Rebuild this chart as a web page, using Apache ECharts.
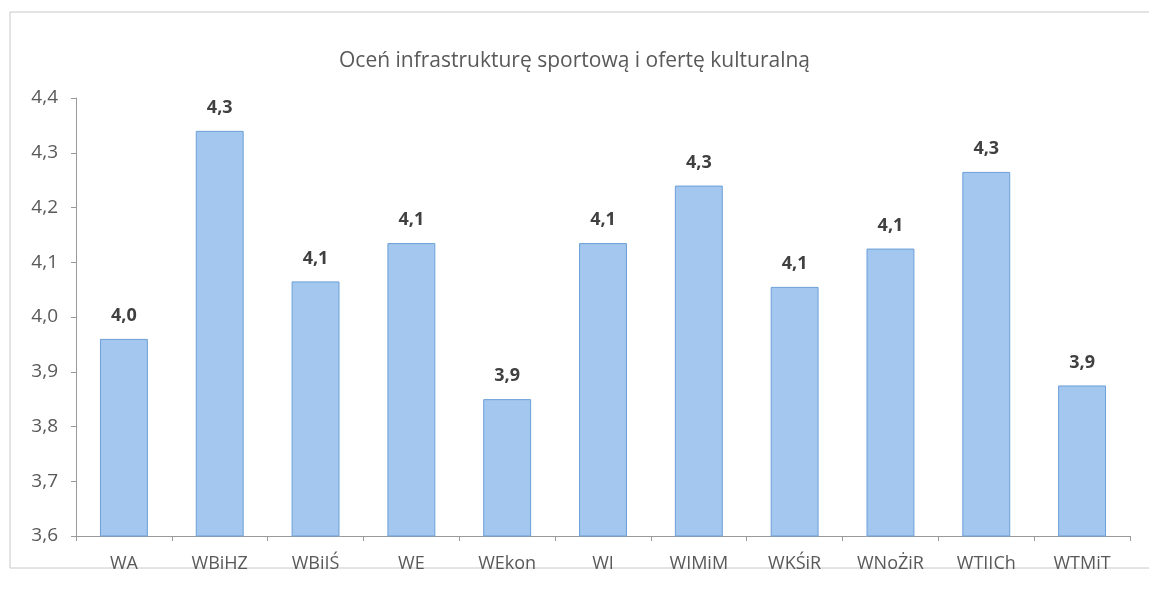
<!DOCTYPE html>
<html>
<head>
<meta charset="utf-8">
<script src="https://cdn.jsdelivr.net/npm/echarts@6/dist/echarts.min.js"></script>
<style>
  html, body { margin: 0; padding: 0; background: #fff; }
  #chart { width: 1149px; height: 598px; }
</style>
</head>
<body>
<div id="chart"></div>
<script>
// dane
var wydzialy = ['WA', 'WBiHZ', 'WBiIŚ', 'WE', 'WEkon', 'WI', 'WIMiM', 'WKŚiR', 'WNoŻiR', 'WTIICh', 'WTMiT'];
var oceny = [3.96, 4.34, 4.065, 4.135, 3.85, 4.135, 4.24, 4.055, 4.125, 4.265, 3.875];
var etykiety = ['4,0', '4,3', '4,1', '4,1', '3,9', '4,1', '4,3', '4,1', '4,1', '4,3', '3,9'];
var tytul = 'Oceń infrastrukturę sportową i ofertę kulturalną';

var myChart = echarts.init(document.getElementById('chart'));

myChart.setOption({
    backgroundColor: '#fff',
    textStyle: { fontFamily: 'Open Sans' },
    title: {
        text: tytul,
        left: 'center',
        top: 46,
        textStyle: { fontFamily: 'Open Sans', fontSize: 21, fontWeight: 'normal', color: '#595959' }
    },
    graphic: [{
        type: 'rect',
        shape: { x: 10, y: 12, width: 1160, height: 556 },
        style: { fill: 'none', stroke: '#c8c8c8', lineWidth: 1 },
        silent: true
    }],
    grid: { left: 76, right: 19, top: 98, bottom: 62 },
    xAxis: {
        type: 'category',
        data: wydzialy,
        axisLine: { lineStyle: { color: '#9a9a9a' } },
        axisTick: { show: true, length: 5, lineStyle: { color: '#9a9a9a' } },
        axisLabel: { color: '#595959', fontSize: 18, margin: 19 }
    },
    yAxis: {
        type: 'value',
        min: 3.6,
        max: 4.4,
        interval: 0.1,
        splitLine: { show: false },
        axisLine: { show: true, lineStyle: { color: '#9a9a9a' } },
        axisTick: { show: true, length: 5, lineStyle: { color: '#9a9a9a' } },
        axisLabel: {
            color: '#595959',
            fontSize: 19,
            margin: 18,
            formatter: function (v) { return v.toFixed(1).replace('.', ','); }
        }
    },
    series: [{
        type: 'bar',
        data: oceny,
        barWidth: '50%',
        itemStyle: { color: '#a3c7ee', borderColor: '#6b9fd8', borderWidth: 1 },
        label: {
            show: true,
            position: 'top',
            distance: 14,
            fontSize: 18,
            fontWeight: 'bold',
            color: '#404040',
            formatter: function (p) { return etykiety[p.dataIndex]; }
        }
    }]
});
</script>
</body>
</html>
